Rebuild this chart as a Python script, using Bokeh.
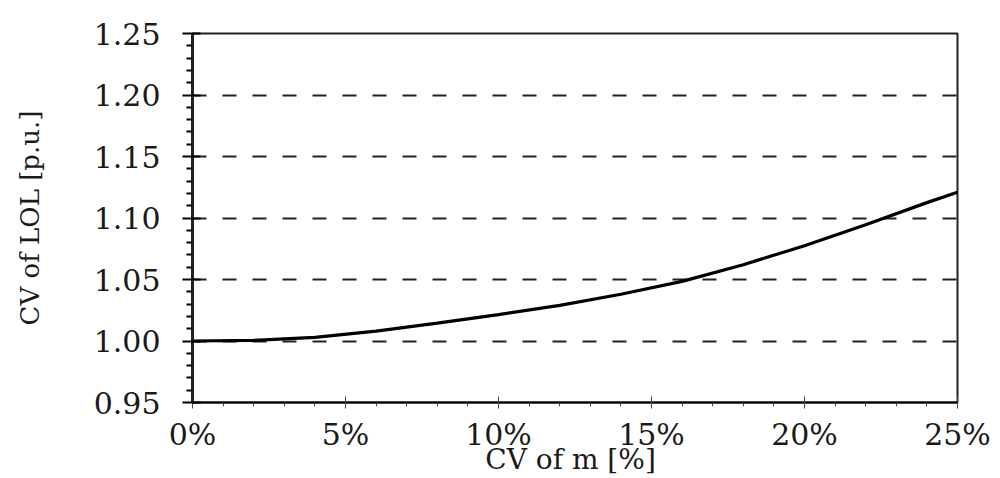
from bokeh.plotting import figure
from bokeh.models import Range1d, FixedTicker
from bokeh.embed import file_html
from bokeh.resources import INLINE

# ---- data ----
cv_m = [0, 2, 4, 6, 8, 10, 12, 14, 16, 18, 20, 22, 24, 25]
cv_lol = [1.000, 1.0005, 1.003, 1.008, 1.0145, 1.0215, 1.029, 1.038, 1.0485,
          1.062, 1.0775, 1.0945, 1.1125, 1.121]

x_ticks = [0, 5, 10, 15, 20, 25]
x_tick_labels = ["0%", "5%", "10%", "15%", "20%", "25%"]
y_ticks = [0.95, 1.00, 1.05, 1.10, 1.15, 1.20, 1.25]
y_tick_labels = ["0.95", "1.00", "1.05", "1.10", "1.15", "1.20", "1.25"]
grid_levels = [1.00, 1.05, 1.10, 1.15, 1.20]
x_title = "CV of m  [%]"
y_title = "CV of LOL [p.u.]"

FONT = "DejaVu Serif"
W, H = 1000, 478

p = figure(width=W, height=H, output_backend="svg", toolbar_location=None,
           x_range=Range1d(0, 25), y_range=Range1d(0.95, 1.25),
           min_border_left=192, min_border_right=43, min_border_top=33, min_border_bottom=74)
p.background_fill_color = "white"
p.border_fill_color = "white"
p.outline_line_color = "#222222"
p.outline_line_width = 2

# x axis
xa = p.xaxis[0]
xa.ticker = FixedTicker(ticks=x_ticks, minor_ticks=[i for i in range(1, 25) if i % 5])
xa.major_label_overrides = {t: l for t, l in zip(x_ticks, x_tick_labels)}
xa.major_label_text_font = FONT
xa.major_label_text_font_size = "30px"
xa.major_label_text_color = "#1a1a1a"
xa.major_tick_in = 6
xa.major_tick_out = 6
xa.minor_tick_in = 0
xa.minor_tick_out = 4
xa.major_label_standoff = 8
xa.axis_line_width = 2
xa.axis_line_color = "black"
xa.major_tick_line_color = "#444444"
xa.minor_tick_line_color = "#444444"
xa.axis_label = x_title
xa.axis_label_text_font = FONT
xa.axis_label_text_font_style = "normal"
xa.axis_label_text_font_size = "28px"
xa.axis_label_text_color = "#1a1a1a"
xa.axis_label_standoff = -12

# y axis
ya = p.yaxis[0]
ya.ticker = FixedTicker(ticks=y_ticks,
                        minor_ticks=[round(0.95 + 0.01 * i, 2) for i in range(31) if i % 5])
ya.major_label_overrides = {t: l for t, l in zip(y_ticks, y_tick_labels)}
ya.major_label_text_font = FONT
ya.major_label_text_font_size = "30px"
ya.major_label_text_color = "#1a1a1a"
ya.major_tick_in = 8
ya.major_tick_out = 10
ya.minor_tick_in = 0
ya.minor_tick_out = 6
ya.minor_tick_line_width = 2
ya.major_tick_line_width = 2
ya.major_label_standoff = 22
ya.axis_line_width = 3
ya.axis_line_color = "#222222"
ya.axis_label = y_title
ya.axis_label_text_font = FONT
ya.axis_label_text_font_style = "normal"
ya.axis_label_text_font_size = "26px"
ya.axis_label_text_color = "#1a1a1a"
ya.axis_label_standoff = 46

# grid
p.xgrid.visible = False
p.ygrid.ticker = FixedTicker(ticks=grid_levels)
p.ygrid.grid_line_color = "#222222"
p.ygrid.grid_line_width = 2
p.ygrid.grid_line_dash = "14 16"

# curve
p.line(cv_m, cv_lol, line_color="black", line_width=3.2)

open("out.html", "w").write(file_html(p, INLINE))
